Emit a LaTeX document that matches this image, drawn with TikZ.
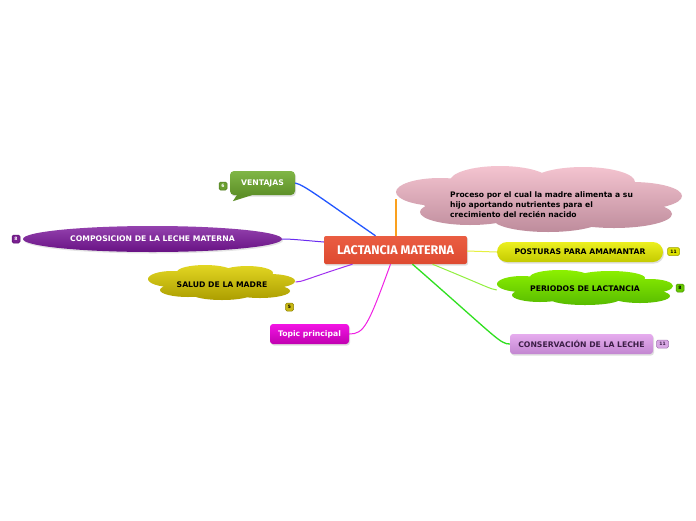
\documentclass[tikz,border=0pt]{standalone}
\usepackage{fontspec}
\setmainfont{DejaVu Sans}
\newfontfamily\titlefont{Fira Sans}
\usetikzlibrary{shapes.geometric,shadows}
\definecolor{pinkT}{HTML}{F4C4D0}\definecolor{pinkB}{HTML}{BE8C9C}
\definecolor{olT}{HTML}{E2D622}\definecolor{olB}{HTML}{AC9E00}
\definecolor{grT}{HTML}{8CF000}\definecolor{grB}{HTML}{58BC00}
\definecolor{redT}{HTML}{EA5D42}\definecolor{redB}{HTML}{DE4A30}
\definecolor{venT}{HTML}{80B646}\definecolor{venB}{HTML}{5E9028}
\definecolor{purT}{HTML}{9442AE}\definecolor{purB}{HTML}{681284}
\definecolor{magT}{HTML}{F214E4}\definecolor{magB}{HTML}{C000B0}
\definecolor{yelT}{HTML}{ECF020}\definecolor{yelB}{HTML}{C4CA00}
\definecolor{lavT}{HTML}{E6ACEE}\definecolor{lavB}{HTML}{C286D0}
\definecolor{lavTxt}{HTML}{3C1E46}
\definecolor{bgreen}{HTML}{6A9E30}\definecolor{bgreenD}{HTML}{4E7A20}
\definecolor{bpur}{HTML}{7A2090}\definecolor{bpurD}{HTML}{5A1070}
\definecolor{bol}{HTML}{C8B814}\definecolor{bolD}{HTML}{8C8000}
\definecolor{byel}{HTML}{DCE000}\definecolor{byelD}{HTML}{9CA000}
\definecolor{bgr}{HTML}{66C800}\definecolor{bgrD}{HTML}{449000}
\definecolor{blav}{HTML}{D8A8E4}\definecolor{blavD}{HTML}{A070B0}
\definecolor{cBlue}{HTML}{2256FF}\definecolor{cViolet}{HTML}{6A2CF0}
\definecolor{cPurple}{HTML}{A030F0}\definecolor{cMag}{HTML}{F020E4}
\definecolor{cOrange}{RGB}{250,160,30}\definecolor{cYellow}{HTML}{E6F040}
\definecolor{cLgreen}{HTML}{92F040}\definecolor{cGreen}{HTML}{30E020}
\begin{document}
\begin{tikzpicture}[x=1pt,y=-1pt,
  lbl/.style={font=\bfseries\fontsize{7.7}{9}\selectfont, inner sep=0pt},
  box/.style={lbl, minimum height=20pt, rounded corners=3pt,
     drop shadow={shadow xshift=1pt, shadow yshift=-1.5pt, opacity=0.25}},
  badge/.style={font=\bfseries\fontsize{4.5}{5}\selectfont, rounded corners=1.5pt,
     minimum width=8pt, minimum height=8pt, inner sep=0.8pt, line width=0.5pt},
  conn/.style={line width=1pt},
  ghost/.style={inner sep=0pt}]
\useasboundingbox (0,0) rectangle (696,520);
\fill[white] (0,0) rectangle (696,520);

% ---- clouds (shapes) ----
\shade[top color=pinkT, bottom color=pinkB]
  (539,199) ellipse [x radius=120pt, y radius=22pt]
  (440,192) ellipse [x radius=44pt, y radius=14pt]
  (500,181) ellipse [x radius=50pt, y radius=15pt]
  (583,182) ellipse [x radius=52pt, y radius=15pt]
  (632,196) ellipse [x radius=50pt, y radius=14pt]
  (614,214) ellipse [x radius=58pt, y radius=14pt]
  (548,219) ellipse [x radius=55pt, y radius=13pt]
  (470,212) ellipse [x radius=50pt, y radius=13pt];
\shade[top color=olT, bottom color=olB]
  (222,284) ellipse [x radius=60pt, y radius=12pt]
  (172,279) ellipse [x radius=24pt, y radius=8pt]
  (205,272) ellipse [x radius=28pt, y radius=7pt]
  (247,273) ellipse [x radius=26pt, y radius=7pt]
  (270,281) ellipse [x radius=25pt, y radius=7pt]
  (260,291) ellipse [x radius=30pt, y radius=7pt]
  (222,294) ellipse [x radius=30pt, y radius=6pt]
  (188,290) ellipse [x radius=28pt, y radius=7pt];
\shade[top color=grT, bottom color=grB]
  (585,288) ellipse [x radius=70pt, y radius=12pt]
  (522,284) ellipse [x radius=25pt, y radius=8pt]
  (560,277) ellipse [x radius=30pt, y radius=7pt]
  (610,278) ellipse [x radius=35pt, y radius=7pt]
  (650,286) ellipse [x radius=23pt, y radius=7pt]
  (640,296) ellipse [x radius=30pt, y radius=7pt]
  (585,299) ellipse [x radius=35pt, y radius=6pt]
  (540,295) ellipse [x radius=28pt, y radius=7pt];

% ---- nodes ----
\node[ghost, minimum width=286pt, minimum height=66pt] (p) at (539,199) {};
\node[lbl, font=\bfseries\fontsize{7.6}{10}\selectfont, align=left, anchor=west] (pt) at (450,205)
  {Proceso por el cual la madre alimenta a su\\hijo aportando nutrientes para el\\crecimiento del recién nacido};

\node[box, minimum width=143pt, minimum height=28pt, rounded corners=2pt,
      top color=redT, bottom color=redB, text=white,
      font=\titlefont\bfseries\fontsize{12.5}{14}\selectfont] (c) at (395.5,250) {LACTANCIA MATERNA};

\node[box, minimum width=65pt, minimum height=24pt, rounded corners=4pt,
      top color=venT, bottom color=venB, text=white] (v) at (262.5,183) {VENTAJAS};
\fill[venB] ([xshift=7pt]v.south west) -- ([xshift=3pt,yshift=-6pt]v.south west)
   -- ([xshift=22pt]v.south west) -- cycle;

\node[lbl, ellipse, minimum width=259pt, minimum height=26pt,
      top color=purT, bottom color=purB, text=white,
      drop shadow={shadow xshift=1pt, shadow yshift=-1.5pt, opacity=0.2}] (m) at (152.5,239) {COMPOSICION DE LA LECHE MATERNA};

\node[lbl, minimum width=147pt, minimum height=35pt] (s) at (222,285) {SALUD DE LA MADRE};

\node[box, minimum width=79pt, rounded corners=3pt,
      top color=magT, bottom color=magB, text=white] (t) at (309.5,334) {Topic principal};

\node[box, minimum width=166pt, rounded corners=10pt,
      top color=yelT, bottom color=yelB] (po) at (580,252) {POSTURAS PARA AMAMANTAR};

\node[lbl, minimum width=176pt, minimum height=34pt] (pe) at (585,289) {PERIODOS DE LACTANCIA};

\node[box, minimum width=143pt, rounded corners=3pt,
      top color=lavT, bottom color=lavB, text=lavTxt] (co) at (581.5,344) {CONSERVACIÓN DE LA LECHE};

% ---- badges ----
\node[badge, fill=bgreen, draw=bgreenD, text=white] (b1) at (223,186) {6};
\node[badge, fill=bpur, draw=bpurD, text=white] (b2) at (16,239) {8};
\node[badge, fill=bol, draw=bolD, text=black] (b3) at (289.5,307) {5};
\node[badge, fill=byel, draw=byelD, text=black, minimum width=12pt] (b4) at (673.5,251.5) {11};
\node[badge, fill=bgr, draw=bgrD, text=black] (b5) at (680,288) {8};
\node[badge, fill=blav, draw=blavD, text=lavTxt, minimum width=12pt] (b6) at (662.5,344) {11};

% ---- connectors ----
\draw[conn, cBlue, line width=1.3pt] ([xshift=-20pt]c.north) .. controls (318,196) and (304,185) .. (v.east);
\draw[conn, cViolet] ([yshift=8pt]c.west) .. controls (300,240) and (292,239) .. (m.east);
\draw[conn, cPurple] ([xshift=-43pt]c.south) .. controls (306,279) and (302,282) .. ([yshift=3pt]s.east);
\draw[conn, cMag] ([xshift=-5pt]c.south) .. controls (368,326) and (364,334) .. (t.east);
\draw[draw=cOrange, line width=2pt] ([xshift=0.5pt]c.north) -- ([xshift=0.5pt]c.north |- p.west);
\draw[conn, cYellow] ([yshift=-1pt]c.east) -- (po.west);
\draw[conn, cLgreen] ([xshift=37pt]c.south) .. controls (488,287) and (490,289) .. ([yshift=-1pt]pe.west);
\draw[conn, cGreen, line width=1.3pt] ([xshift=17pt]c.south) .. controls (497,338) and (500,344) .. (co.west);
\end{tikzpicture}
\end{document}
